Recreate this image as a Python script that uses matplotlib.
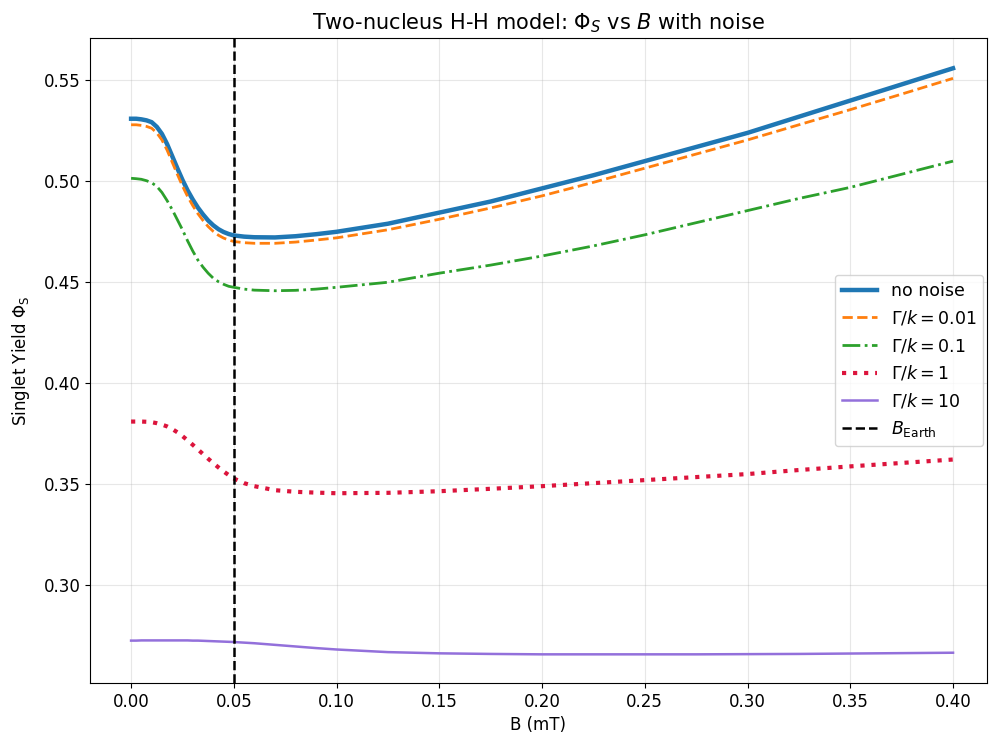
import matplotlib
matplotlib.use('Agg')
import matplotlib.pyplot as plt

plt.rcParams['font.size'] = 12

# Magnetic field values (mT)
B = [0.0, 0.0025, 0.005, 0.0075, 0.01, 0.0125, 0.015, 0.0175, 0.02, 0.0225, 0.025,
     0.0275, 0.03, 0.0325, 0.035, 0.0375, 0.04, 0.0425, 0.045, 0.0475, 0.05,
     0.055, 0.06, 0.07, 0.08, 0.09, 0.1,
     0.125, 0.15, 0.175, 0.2, 0.225, 0.25, 0.275, 0.3, 0.325, 0.35, 0.375, 0.4]

# Singlet yields
no_noise = [0.531, 0.531, 0.5307, 0.5302, 0.5293, 0.527, 0.5235, 0.5185, 0.5125, 0.5065, 0.5007,
            0.4955, 0.491, 0.487, 0.4836, 0.4806, 0.4782, 0.4763, 0.4749, 0.4739, 0.4732,
            0.4726, 0.4723, 0.4722, 0.4728, 0.4738, 0.475,
            0.479, 0.4845, 0.490, 0.4965, 0.503, 0.510, 0.517, 0.524, 0.532, 0.540, 0.548, 0.556]
gamma_001 = [0.528, 0.528, 0.5277, 0.5272, 0.5263, 0.524, 0.5205, 0.5155, 0.5095, 0.5035, 0.4977,
             0.4925, 0.488, 0.484, 0.4806, 0.4776, 0.4752, 0.4733, 0.4719, 0.4709, 0.4702,
             0.4696, 0.4693, 0.4693, 0.4699, 0.4709, 0.472,
             0.476, 0.4812, 0.4868, 0.4928, 0.4995, 0.5065, 0.5135, 0.5205, 0.528, 0.5355, 0.5432, 0.551]
gamma_01 = [0.5015, 0.5013, 0.501, 0.5003, 0.4993, 0.4975, 0.4945, 0.4905, 0.486, 0.481, 0.476,
            0.4705, 0.4655, 0.461, 0.4575, 0.4545, 0.452, 0.4503, 0.449, 0.448, 0.4475,
            0.4466, 0.4461, 0.4458, 0.446, 0.4466, 0.4475,
            0.450, 0.4545, 0.4585, 0.463, 0.468, 0.4735, 0.4795, 0.4855, 0.4915, 0.497, 0.5035, 0.510]
gamma_1 = [0.381, 0.381, 0.381, 0.3809, 0.3807, 0.3802, 0.3795, 0.3786, 0.3773, 0.3757, 0.3738,
           0.3717, 0.3695, 0.3672, 0.3649, 0.3626, 0.3604, 0.3583, 0.3563, 0.3545, 0.3528,
           0.3505, 0.349, 0.347, 0.3462, 0.3458, 0.3455,
           0.3457, 0.3465, 0.3477, 0.349, 0.3505, 0.352, 0.3535, 0.355, 0.357, 0.3588, 0.3605, 0.3622]
gamma_10 = [0.2725, 0.2725, 0.2726, 0.2726, 0.2726, 0.2726, 0.2726, 0.2726, 0.2726, 0.2726, 0.2726,
            0.2726, 0.2725, 0.2725, 0.2724, 0.2723, 0.2722, 0.2721, 0.272, 0.2719, 0.2718,
            0.2715, 0.2712, 0.2704, 0.2696, 0.2688, 0.2681,
            0.2668, 0.2662, 0.2659, 0.2657, 0.2657, 0.2657, 0.2657, 0.2658, 0.2659, 0.2661, 0.2663, 0.2665]

B_earth = 0.05

fig = plt.figure(figsize=(9.9, 7.36), dpi=100)
ax = fig.add_axes([0.0909, 0.072, 0.906, 0.8764])

ax.plot(B, no_noise, color='#1f77b4', lw=3.2, label='no noise')
ax.plot(B, gamma_001, color='#ff7f0e', lw=2, ls='--', label=r'$\Gamma/k = 0.01$')
ax.plot(B, gamma_01, color='#2ca02c', lw=2, ls='-.', label=r'$\Gamma/k = 0.1$')
ax.plot(B, gamma_1, color='crimson', lw=3, ls=':', label=r'$\Gamma/k = 1$')
ax.plot(B, gamma_10, color='mediumpurple', lw=1.8, label=r'$\Gamma/k = 10$')
ax.axvline(B_earth, color='black', lw=1.8, ls='--', label=r'$B_{\mathrm{Earth}}$')

ax.set_xlim(-0.02, 0.4165)
ax.set_ylim(0.2515, 0.571)
ax.set_xticks([0.0, 0.05, 0.1, 0.15, 0.2, 0.25, 0.3, 0.35, 0.4])
ax.grid(True, alpha=0.3)
ax.set_xlabel('B (mT)')
ax.set_ylabel(r'Singlet Yield $\Phi_\mathrm{S}$', labelpad=8)
ax.set_title(r'Two-nucleus H-H model: $\Phi_S$ vs $B$ with noise', fontsize=15)
ax.legend(loc='center right', fontsize=12.5, borderaxespad=0.2)

fig.savefig('out.png', dpi=100)
